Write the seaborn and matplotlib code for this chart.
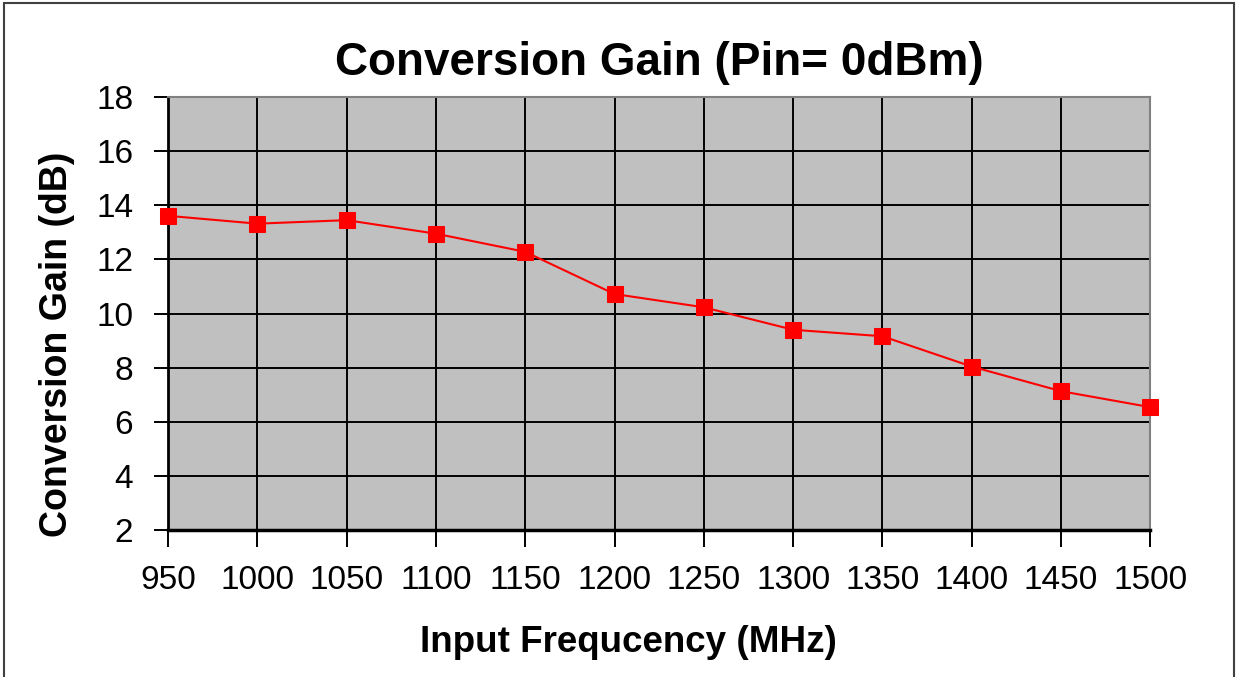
import pandas as pd
import matplotlib.pyplot as plt
import seaborn as sns
from matplotlib.patches import Rectangle

# Data
freq_mhz = [950, 1000, 1050, 1100, 1150, 1200, 1250, 1300, 1350, 1400, 1450, 1500]
gain_db = [13.61, 13.32, 13.45, 12.95, 12.28, 10.72, 10.23, 9.40, 9.16, 8.04, 7.13, 6.54]
y_ticks = [2, 4, 6, 8, 10, 12, 14, 16, 18]

df = pd.DataFrame({'freq': freq_mhz, 'gain': gain_db})

sns.set_style('white')
plt.rcParams['font.family'] = ['Liberation Sans', 'DejaVu Sans']
plt.rcParams['text.color'] = 'black'
plt.rcParams['axes.labelcolor'] = 'black'
plt.rcParams['xtick.color'] = 'black'
plt.rcParams['ytick.color'] = 'black'

fig = plt.figure(figsize=(12.38, 6.77), dpi=100)
ax = fig.add_axes([0.1357, 0.2171, 0.7935, 0.6396])
ax.set_facecolor('#C0C0C0')

sns.lineplot(data=df, x='freq', y='gain', ax=ax, color='#FF0000', linewidth=1.5,
             marker='s', markersize=11, markeredgecolor='#FF0000', zorder=3,
             clip_on=False)

ax.set_xlim(950, 1500)
ax.set_ylim(2, 18)
ax.set_xticks(freq_mhz)
ax.set_xticklabels([str(f) for f in freq_mhz])
ax.set_yticks(y_ticks)

ax.grid(True, color='black', linewidth=1.4)
ax.set_axisbelow(True)

for side in ['top', 'right']:
    ax.spines[side].set_color('#808080')
    ax.spines[side].set_linewidth(1.5)
ax.spines['left'].set_color('black')
ax.spines['left'].set_linewidth(2)
ax.spines['bottom'].set_color('black')
ax.spines['bottom'].set_linewidth(2.5)

ax.tick_params(axis='x', direction='out', length=12, width=1.4, color='black',
               labelsize=24, pad=13, bottom=True, labelcolor='black')
ax.tick_params(axis='y', direction='out', length=10, width=1.4, color='black',
               labelsize=24, pad=15, left=True, labelcolor='black')

ax.set_xlabel('Input Frequcency (MHz)', fontsize=26.5, fontweight='bold', color='black')
ax.set_ylabel('Conversion Gain (dB)', fontsize=27, fontweight='bold', color='black')
ax.xaxis.set_label_coords(0.469, -0.22)
ax.yaxis.set_label_coords(-0.095, 0.43)
ax.set_title('Conversion Gain (Pin= 0dBm)', fontsize=33, fontweight='bold', pad=16,
             color='black')

# outer chart border
fig.patches.append(Rectangle((0.003, -0.02), 0.994, 1.015, transform=fig.transFigure,
                             fill=False, edgecolor='#404040', linewidth=1.5))

fig.savefig('out.png', dpi=100)
